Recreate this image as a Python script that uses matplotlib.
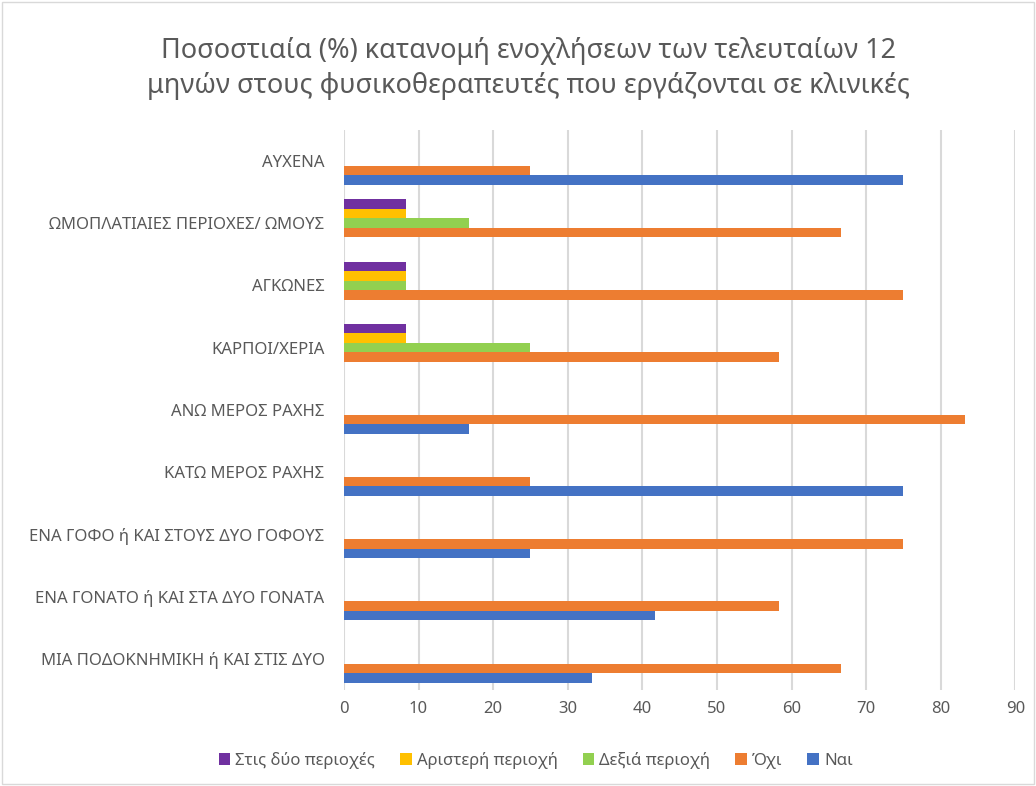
import numpy as np
import matplotlib.pyplot as plt
from matplotlib.patches import Rectangle

plt.rcParams['font.family'] = ['Noto Sans', 'DejaVu Sans']

# categories, top to bottom as in the chart
categories = ['ΑΥΧΕΝΑ', 'ΩΜΟΠΛΑΤΙΑΙΕΣ ΠΕΡΙΟΧΕΣ/ ΩΜΟΥΣ', 'ΑΓΚΩΝΕΣ', 'ΚΑΡΠΟΙ/ΧΕΡΙΑ',
              'ΑΝΩ ΜΕΡΟΣ ΡΑΧΗΣ', 'ΚΑΤΩ ΜΕΡΟΣ ΡΑΧΗΣ', 'ΕΝΑ ΓΟΦΟ ή ΚΑΙ ΣΤΟΥΣ ΔΥΟ ΓΟΦΟΥΣ',
              'ΕΝΑ ΓΟΝΑΤΟ ή ΚΑΙ ΣΤΑ ΔΥΟ ΓΟΝΑΤΑ', 'ΜΙΑ ΠΟΔΟΚΝΗΜΙΚΗ ή ΚΑΙ ΣΤΙΣ ΔΥΟ']

nai = [75, 0, 0, 0, 16.7, 75, 25, 41.7, 33.3]
oxi = [25, 66.7, 75, 58.3, 83.3, 25, 75, 58.3, 66.7]
dexia = [0, 16.7, 8.3, 25, 0, 0, 0, 0, 0]
aristeri = [0, 8.3, 8.3, 8.3, 0, 0, 0, 0, 0]
dyo = [0, 8.3, 8.3, 8.3, 0, 0, 0, 0, 0]

# drawn from bottom of each group upward
series = [
    ('Ναι', nai, '#4472C4'),
    ('Όχι', oxi, '#ED7D31'),
    ('Δεξιά περιοχή', dexia, '#92D050'),
    ('Αριστερή περιοχή', aristeri, '#FFC000'),
    ('Στις δύο περιοχές', dyo, '#7030A0'),
]

fig = plt.figure(figsize=(10.36, 7.86), dpi=100)
ax = fig.add_axes([0.332, 0.122, 0.648, 0.713])

n = len(categories)
y = np.arange(n)[::-1]  # first category at top
h = 1 / (5 + 1.55)
handles = []
for i, (name, vals, col) in enumerate(series):
    off = (i - 2) * h
    b = ax.barh(y + off, vals, height=h, color=col, label=name, zorder=3)
    handles.append(b)

ax.set_xlim(0, 90)
ax.set_ylim(-0.5, n - 0.5)
ax.set_xticks(np.arange(0, 91, 10))
ax.set_yticks(y)
ax.set_yticklabels(categories)
ax.grid(axis='x', color='#D9D9D9', linewidth=1.5, zorder=0)
for s in ax.spines.values():
    s.set_visible(False)
ax.tick_params(length=0, labelsize=12, labelcolor='#595959')
ax.tick_params(axis='x', pad=8)
ax.tick_params(axis='y', pad=14)

fig.text(0.51, 0.913, 'Ποσοστιαία (%) κατανομή ενοχλήσεων των τελευταίων 12\n'
         'μηνών στους φυσικοθεραπευτές που εργάζονται σε κλινικές',
         ha='center', va='center', fontsize=19.5, color='#595959', linespacing=1.3)

fig.legend(handles[::-1], [s[0] for s in series][::-1], loc='center',
           bbox_to_anchor=(0.517, 0.033), ncol=5, frameon=False, fontsize=12,
           labelcolor='#595959', handlelength=0.7, handleheight=0.7,
           handletextpad=0.3, columnspacing=1.5)

fig.patches.append(Rectangle((0.002, 0.002), 0.996, 0.996, transform=fig.transFigure,
                             fill=False, edgecolor='#D9D9D9', linewidth=1))

fig.savefig('out.png', dpi=100, facecolor='white')
